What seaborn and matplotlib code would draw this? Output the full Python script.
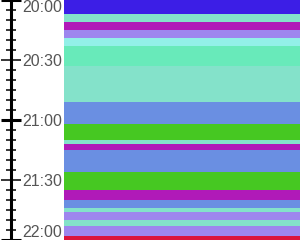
import matplotlib
matplotlib.use("Agg")
import matplotlib.pyplot as plt
from matplotlib.ticker import MultipleLocator, FixedLocator
import seaborn as sns

# Data: consecutive time blocks (start time, colour of activity)
starts = ["20:00", "20:07", "20:11", "20:15", "20:19", "20:23", "20:33", "20:51",
          "21:02", "21:10", "21:12", "21:15", "21:26", "21:35", "21:40", "21:44",
          "21:46", "21:50", "21:53", "21:58"]
end_time = "22:00"
colors = ["#3c1ee6", "#84e2ca", "#b01ab8", "#9e86ee", "#92f0e8", "#68eaba", "#84e2ca", "#6a8fe2",
          "#46c822", "#84e2ca", "#b01ab8", "#6a8fe2", "#46c822", "#b01ab8", "#6a8fe2", "#84e2ca",
          "#9e86ee", "#84e2ca", "#9e86ee", "#dc143c"]
tick_labels = ["20:00", "20:30", "21:00", "21:30", "22:00"]


def to_min(s):
    h, m = s.split(":")
    return (int(h) - 20) * 60 + int(m)

starts_m = [to_min(s) for s in starts]
ends_m = starts_m[1:] + [to_min(end_time)]
durations = [e - s for s, e in zip(starts_m, ends_m)]
tick_pos = [to_min(t) for t in tick_labels]

sns.set_style("white")
plt.rcParams["font.family"] = ["Liberation Sans", "DejaVu Sans"]

fig = plt.figure(figsize=(3, 2.4), dpi=100)
ax = fig.add_axes([64 / 300, 0, 236 / 300, 1])

ax.barh(starts_m, [1] * len(starts_m), height=durations, left=0, align="edge",
        color=colors, linewidth=0)

ax.set_xlim(0, 1)
ax.set_ylim(tick_pos[-1], tick_pos[0])
ax.set_xticks([])

for s in ["top", "right", "bottom"]:
    ax.spines[s].set_visible(False)
ax.spines["left"].set_position(("outward", 38.5))
ax.spines["left"].set_linewidth(2.2)
ax.spines["left"].set_color("black")

ax.yaxis.set_major_locator(FixedLocator(tick_pos))
ax.set_yticklabels(tick_labels)
ax.yaxis.set_minor_locator(MultipleLocator(5))
ax.tick_params(axis="y", which="major", direction="inout", length=13.7, width=1.1,
               color="black", pad=-43.9, labelsize=11.5, labelcolor="#555555", left=True)
ax.tick_params(axis="y", which="minor", direction="inout", length=7.9, width=1.1,
               color="black", left=True)

for t, pos in zip(ax.yaxis.get_major_ticks(), tick_pos):
    if pos % 60 == 0:
        t.tick1line.set_markeredgewidth(2.2)

labels = ax.get_yticklabels()
labels[0].set_verticalalignment("top")
labels[-1].set_verticalalignment("bottom")

fig.savefig("out.png", dpi=100)
